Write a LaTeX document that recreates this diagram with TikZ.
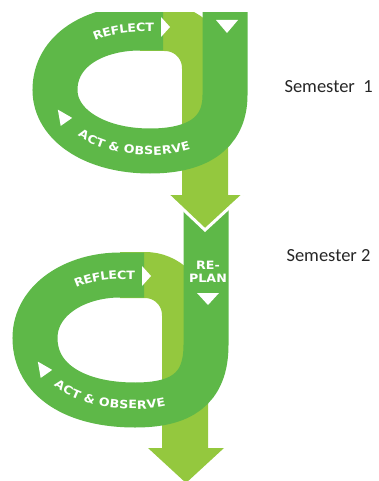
\documentclass[tikz,border=0pt]{standalone}
\usepackage{fontspec}
\setmainfont{Carlito}
\newfontfamily\bandfont[FakeStretch=1.1]{DejaVu Sans}
\usetikzlibrary{decorations.text}
\definecolor{darkgreen}{RGB}{94,184,72}
\definecolor{lightgreen}{RGB}{148,200,62}
\newcommand{\bandfonts}{\bandfont\bfseries\fontsize{11.5}{13}\selectfont}

\begin{document}
\begin{tikzpicture}[x=1pt,y=-1pt,
  darkband/.style={draw=darkgreen,line width=45pt},
  lightband/.style={draw=lightgreen,line width=46pt,rounded corners=40pt},
  headtip/.style={fill=lightgreen},
  pointer/.style={fill=white},
  semlabel/.style={anchor=west,font=\fontsize{18.5}{22}\selectfont,text=black!85},
  actlabel/.style={decorate,decoration={text along path,text={|\bandfonts\color{white}|ACT {\&} OBSERVE},
    text align={left indent=51pt},raise=-4pt}},
  reflectlabel/.style={decorate,decoration={text along path,text={|\bandfonts\color{white}|REFLECT},
    text align={align=right,right indent=9pt},raise=-4pt}}]
\useasboundingbox (0,0) rectangle (379,481);

\draw[lightband] (120,275) -- (185,275) -- (185,450);
\fill[headtip] (148,448) -- (224,448) -- (186,483) -- cycle;
\draw[darkband] (206,206) -- (206,345) .. controls (206,390) and (180,405) .. (135,405)
  .. controls (75,405) and (35,380) .. (35,338) .. controls (35,300) and (75,275) .. (120,275) -- (144,275);

\begin{scope}
\clip (0,13) rectangle (379,481);
\draw[lightband] (140,28) -- (205,28) -- (205,197);
\fill[headtip] (168,195) -- (243,195) -- (205,230) -- cycle;
\draw[white,line width=3pt] (168,195) -- (205,230) -- (243,195);
\draw[darkband] (225,0) -- (225,95) .. controls (225,135) and (195,151) .. (150,151)
  .. controls (95,151) and (55,125) .. (55,90) .. controls (55,50) and (95,28) .. (140,28) -- (163,28);
\end{scope}

\fill[pointer] (216,20) -- (238,20) -- (227,33) -- cycle;
\fill[pointer] (161,17) -- (170,27) -- (161,37) -- cycle;
\fill[pointer,shift={(63,117)},rotate=35] (0,-9) -- (7,6) -- (-7,6) -- cycle;
\path[reflectlabel] (55,90) .. controls (55,50) and (95,28) .. (140,28) -- (163,28);
\path[actlabel] (55,90) .. controls (55,125) and (95,151) .. (150,151) .. controls (195,151) and (225,135) .. (225,95);

\fill[pointer] (197,293) -- (219,293) -- (208,305) -- cycle;
\fill[pointer] (142,266) -- (151,276) -- (142,286) -- cycle;
\fill[pointer,shift={(43,369)},rotate=35] (0,-9) -- (7,6) -- (-7,6) -- cycle;
\path[reflectlabel] (35,338) .. controls (35,300) and (75,275) .. (120,275) -- (144,275);
\path[actlabel] (35,338) .. controls (35,380) and (75,405) .. (135,405) .. controls (180,405) and (206,390) .. (206,345);
\node[align=center,font=\bandfonts,text=white,inner sep=0pt] (replan) at (208,272) {RE-\\PLAN};

\node[semlabel] (sem1) at (281,87) {Semester~~1};
\node[semlabel] (sem2) at (283,256) {Semester 2};
\end{tikzpicture}
\end{document}
